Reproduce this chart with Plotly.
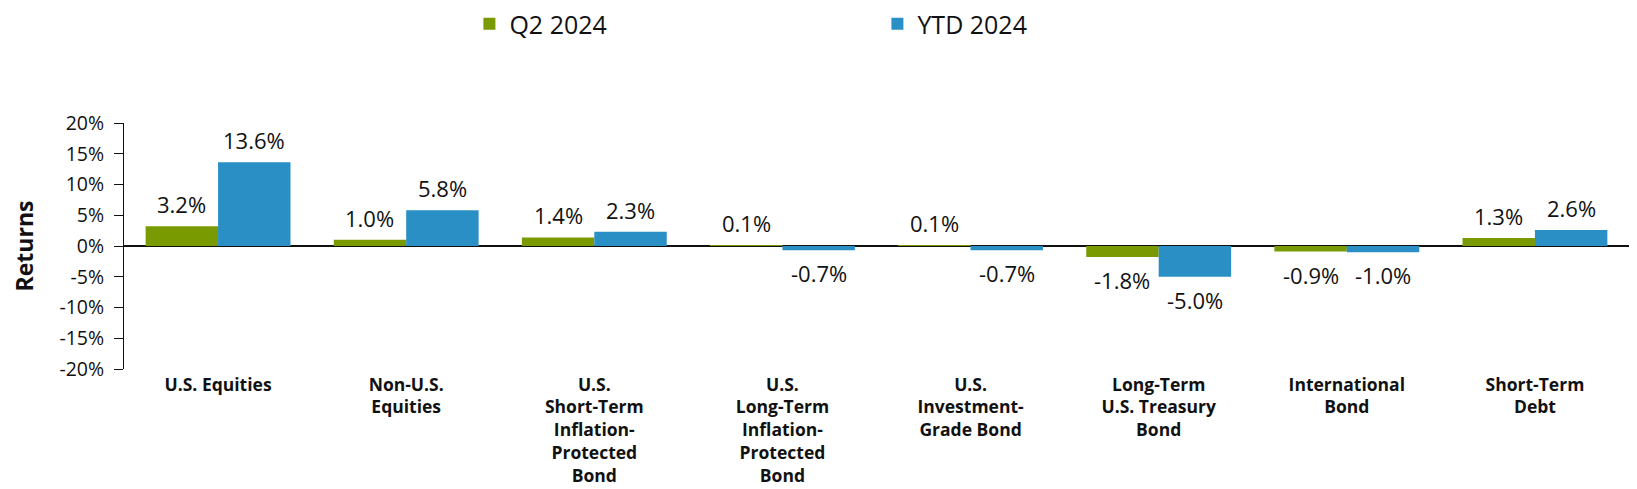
import plotly.graph_objects as go

categories = [
    "U.S. Equities",
    "Non-U.S.<br>Equities",
    "U.S.<br>Short-Term<br>Inflation-<br>Protected<br>Bond",
    "U.S.<br>Long-Term<br>Inflation-<br>Protected<br>Bond",
    "U.S.<br>Investment-<br>Grade Bond",
    "Long-Term<br>U.S. Treasury<br>Bond",
    "International<br>Bond",
    "Short-Term<br>Debt",
]
q2_2024 = [3.2, 1.0, 1.4, 0.1, 0.1, -1.8, -0.9, 1.3]
ytd_2024 = [13.6, 5.8, 2.3, -0.7, -0.7, -5.0, -1.0, 2.6]
series_names = ["Q2 2024", "YTD 2024"]
y_ticks = [-20, -15, -10, -5, 0, 5, 10, 15, 20]
y_tick_labels = ["-20%", "-15%", "-10%", "-5%", "0%", "5%", "10%", "15%", "20%"]

GREEN = "#7a9a01"
BLUE = "#2a8fc4"
W, H = 1637, 489
ML, MR, MT, MB = 116, 16, 115, 128
BARGAP = 0.23
TXT = "#111111"
FONT = "Open Sans, Noto Sans, sans-serif"

fig = go.Figure()
fig.add_trace(go.Bar(x=categories, y=q2_2024, name=series_names[0],
                     marker=dict(color=GREEN, line=dict(width=0))))
fig.add_trace(go.Bar(x=categories, y=ytd_2024, name=series_names[1],
                     marker=dict(color=BLUE, line=dict(width=0))))

# data labels as annotations offset to each bar of the group
pitch = (W - ML - MR) / len(categories)
bar_w = pitch * (1 - BARGAP) / 2
for vals, dx in ((q2_2024, -bar_w / 2), (ytd_2024, bar_w / 2)):
    for c, v in zip(categories, vals):
        pos = v >= 0
        fig.add_annotation(
            x=c, y=v, xref="x", yref="y", text=f"{v:.1f}%", showarrow=False,
            xshift=dx, yshift=5 if pos else -6,
            yanchor="bottom" if pos else "top",
            font=dict(family=FONT, size=22, color=TXT),
        )

plot_h = H - MT - MB
fig.update_layout(
    width=W, height=H,
    margin=dict(l=ML, r=MR, t=MT, b=MB, autoexpand=False),
    barmode="group", bargap=BARGAP, bargroupgap=0,
    plot_bgcolor="white", paper_bgcolor="white",
    font=dict(family=FONT, color=TXT),
    legend=dict(orientation="h", x=0.2295, xanchor="left",
                y=1 + (MT - 16) / plot_h, yanchor="middle", yref="paper",
                entrywidth=363, entrywidthmode="pixels",
                font=dict(size=25, color=TXT), traceorder="normal"),
    showlegend=True,
)
fig.update_xaxes(
    showline=False, showgrid=False, ticks="",
    tickfont=dict(family=FONT, size=17.5, color=TXT, weight="bold"),
    ticklabelstandoff=3,
)
fig.update_yaxes(
    range=[-20, 20], tickmode="array", tickvals=y_ticks, ticktext=y_tick_labels,
    showgrid=False, showline=True, linecolor=TXT, linewidth=1,
    ticks="outside", ticklen=9, tickcolor=TXT,
    zeroline=True, zerolinecolor=TXT, zerolinewidth=1.5,
    tickfont=dict(family=FONT, size=19.5, color=TXT),
    ticklabelstandoff=6,
    title=dict(text="Returns", standoff=51,
               font=dict(family=FONT, size=23, color=TXT, weight="bold")),
)

fig.write_html("out.html")
